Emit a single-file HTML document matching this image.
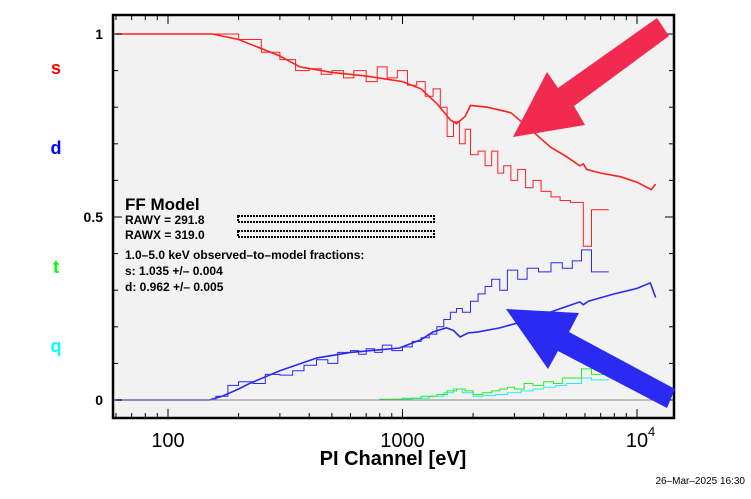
<!DOCTYPE html>
<html><head><meta charset="utf-8">
<style>
body{margin:0;background:#fff;width:751px;height:494px;overflow:hidden;font-family:"Liberation Sans",sans-serif}
svg text{font-family:"Liberation Sans",sans-serif}
</style></head>
<body>
<svg id="c" width="751" height="494" xmlns="http://www.w3.org/2000/svg">
<rect x="113" y="15" width="561" height="403" fill="#f2f2f2"/>
<g id="marks"></g>
<line x1="113" y1="400" x2="674" y2="400" stroke="#888" stroke-width="1"/>
<g id="ticks"></g>
<rect x="113" y="15" width="561" height="403" fill="none" stroke="#000" stroke-width="2.5"/>
<polygon points="558,88 657,18 669,36 574,106 585,125 513,137 547,72" fill="#f22a50"/>
<polygon points="569,332 675,389 667,408 558,351 548,369 506,309 579,313" fill="#2a2af2"/>
<text x="56" y="74" fill="#f00" font-size="18" font-weight="bold" text-anchor="middle">s</text>
<text x="56" y="154" fill="#00f" font-size="18" font-weight="bold" text-anchor="middle">d</text>
<text x="56" y="273" fill="#0f0" font-size="18" font-weight="bold" text-anchor="middle">t</text>
<text x="56" y="352" fill="#0ff" font-size="18" font-weight="bold" text-anchor="middle">q</text>
<g>
<text x="125" y="210" font-size="17" font-weight="bold">FF Model</text>
<text x="125" y="224" font-size="12" font-weight="bold">RAWY = 291.8</text>
<text x="125" y="239" font-size="12" font-weight="bold">RAWX = 319.0</text>
<rect x="238" y="216" width="196" height="6" fill="none" stroke="#000" stroke-width="2" stroke-dasharray="2 1"/>
<rect x="238" y="231" width="196" height="6" fill="none" stroke="#000" stroke-width="2" stroke-dasharray="2 1"/>
<text x="125" y="259" font-size="12" font-weight="bold">1.0–5.0 keV observed–to–model fractions:</text>
<text x="125" y="275" font-size="12" font-weight="bold">s: 1.035 +/– 0.004</text>
<text x="125" y="291" font-size="12" font-weight="bold">d: 0.962 +/– 0.005</text>
</g>
<text x="393" y="465" font-size="20" font-weight="bold" text-anchor="middle">PI Channel [eV]</text>
<text x="745" y="484" font-size="10" text-anchor="end">26–Mar–2025 16:30</text>
</svg>
<script>
const xTickVals=[100,1000,10000];
const xTickLabels=["100","1000","10"];
const yTickVals=[0,0.5,1];
const yTickLabels=["0","0.5","1"];
const sModelE=[60,155,200,300,365,500,700,1000,1200,1400,1600,1700,1850,1950,2300,2900,3500,4300,5000,5700,5900,6100,7000,8500,10000,11500,12000];
const sModelV=[1,1,0.985,0.94,0.91,0.895,0.885,0.87,0.85,0.81,0.765,0.755,0.775,0.805,0.80,0.785,0.74,0.69,0.665,0.64,0.645,0.63,0.62,0.61,0.595,0.575,0.59];
const dModelE=[60,150,170,200,224,300,432,600,970,1200,1350,1540,1650,1760,1900,2100,2600,3500,4500,5700,5900,6200,8000,10000,11400,12000];
const dModelV=[0,0,0.01,0.03,0.046,0.08,0.115,0.13,0.142,0.165,0.186,0.197,0.19,0.172,0.183,0.186,0.197,0.22,0.245,0.268,0.26,0.27,0.29,0.305,0.32,0.28];
const sObsE=[60,150,200,250,300,350,400,450,500,560,620,700,780,860,950,1050,1150,1250,1350,1450,1550,1650,1750,1850,1950,2100,2250,2400,2550,2700,2900,3100,3350,3600,3900,4300,4700,5200,5900,6400,7000];
const sObsV=[1,1,0.985,0.95,0.93,0.9,0.905,0.89,0.9,0.88,0.9,0.87,0.91,0.88,0.9,0.86,0.87,0.83,0.85,0.8,0.72,0.76,0.7,0.74,0.67,0.68,0.64,0.68,0.62,0.64,0.6,0.63,0.58,0.6,0.57,0.555,0.545,0.54,0.42,0.52,0.52];
const dObsE=[60,160,180,200,230,260,300,340,380,430,480,530,600,650,700,760,820,900,1000,1100,1200,1300,1400,1500,1600,1700,1800,1950,2100,2250,2400,2600,2800,3100,3400,3800,4300,4800,5300,5800,6400,7000];
const dObsV=[0,0.01,0.04,0.05,0.045,0.07,0.068,0.08,0.095,0.11,0.1,0.13,0.135,0.125,0.14,0.13,0.15,0.135,0.145,0.16,0.17,0.18,0.2,0.22,0.24,0.25,0.24,0.27,0.29,0.31,0.33,0.3,0.355,0.33,0.36,0.35,0.375,0.36,0.38,0.41,0.35,0.35];
const tObsE=[60,800,1000,1200,1400,1550,1700,1850,2000,2200,2400,2600,2800,3000,3300,3600,4000,4400,4800,5300,5800,6400,7000];
const tObsV=[0,0.002,0.005,0.01,0.015,0.025,0.03,0.025,0.015,0.02,0.025,0.03,0.035,0.03,0.045,0.04,0.05,0.045,0.06,0.06,0.085,0.07,0.07];
const qObsE=[60,900,1100,1300,1500,1650,1800,2000,2200,2500,2800,3200,3600,4000,4500,5000,5800,6400,7000];
const qObsV=[0,0.002,0.005,0.01,0.02,0.03,0.02,0.01,0.012,0.015,0.02,0.025,0.03,0.035,0.04,0.045,0.06,0.055,0.055];

const X0=113,X1=674,Y0=15,Y1=418;
const xs=e=>168+234.5*(Math.log10(e)-2);
const ys=v=>400-v*366;
const NS='http://www.w3.org/2000/svg';
const marks=document.getElementById('marks');
const ticks=document.getElementById('ticks');
function mk(tag,attrs,parent){const el=document.createElementNS(NS,tag);for(const k in attrs)el.setAttribute(k,attrs[k]);parent.appendChild(el);return el;}
function line(E,V,color,name){
  const d=E.map((e,i)=>(i?'L':'M')+xs(e).toFixed(1)+','+ys(V[i]).toFixed(1)).join('');
  const p=mk('path',{d:d,fill:'none',stroke:color,'stroke-width':1.6},marks);
  
  
}
function steps(E,V,color,name){
  let d='';
  for(let i=0;i<E.length;i++){
    const x0=xs(E[i]);const x1=i+1<E.length?xs(E[i+1]):x0+8;const y=ys(V[i]);
    d+=(i?'L':'M')+x0.toFixed(1)+','+y.toFixed(1)+'L'+x1.toFixed(1)+','+y.toFixed(1);
  }
  const p=mk('path',{d:d,fill:'none',stroke:color,'stroke-width':1},marks);
  
  
}
steps(qObsE,qObsV,'#22eeee','q-observed');
steps(tObsE,tObsV,'#22ee22','t-observed');
steps(sObsE,sObsV,'#ff2020','s-observed');
steps(dObsE,dObsV,'#2a2aee','d-observed');
line(sModelE,sModelV,'#ff2020','s-model');
line(dModelE,dModelV,'#2a2aee','d-model');
for(let dec=1;dec<=4;dec++){for(let m=1;m<10;m++){const e=m*Math.pow(10,dec);const x=xs(e);if(x<X0+2||x>X1-2)continue;const L=m===1?9:5;
  const t1=mk('line',{x1:x,y1:Y1,x2:x,y2:Y1-L,stroke:'#000','stroke-width':1},ticks);
  
  const t2=mk('line',{x1:x,y1:Y0,x2:x,y2:Y0+L,stroke:'#000','stroke-width':1},ticks);
  }}
xTickVals.forEach((v,i)=>{const t=mk('text',{x:xs(v),y:447,'font-size':20,'text-anchor':'middle'},ticks);t.textContent=xTickLabels[i];
  
  if(v===10000){const s=mk('text',{x:xs(v)+11,y:436,'font-size':13},ticks);s.textContent='4';}});
for(let k=0;k<=10;k++){const v=k/10;const y=ys(v);const L=k%5===0?9:5;
  const a=mk('line',{x1:X0,y1:y,x2:X0+L,y2:y,stroke:'#000','stroke-width':1},ticks);
  const b=mk('line',{x1:X1,y1:y,x2:X1-L,y2:y,stroke:'#000','stroke-width':1},ticks);}
yTickVals.forEach((v,i)=>{const t=mk('text',{x:103,y:ys(v)+5,'font-size':14,'font-weight':'bold','text-anchor':'end'},ticks);t.textContent=yTickLabels[i];
  });
</script>
</body></html>
